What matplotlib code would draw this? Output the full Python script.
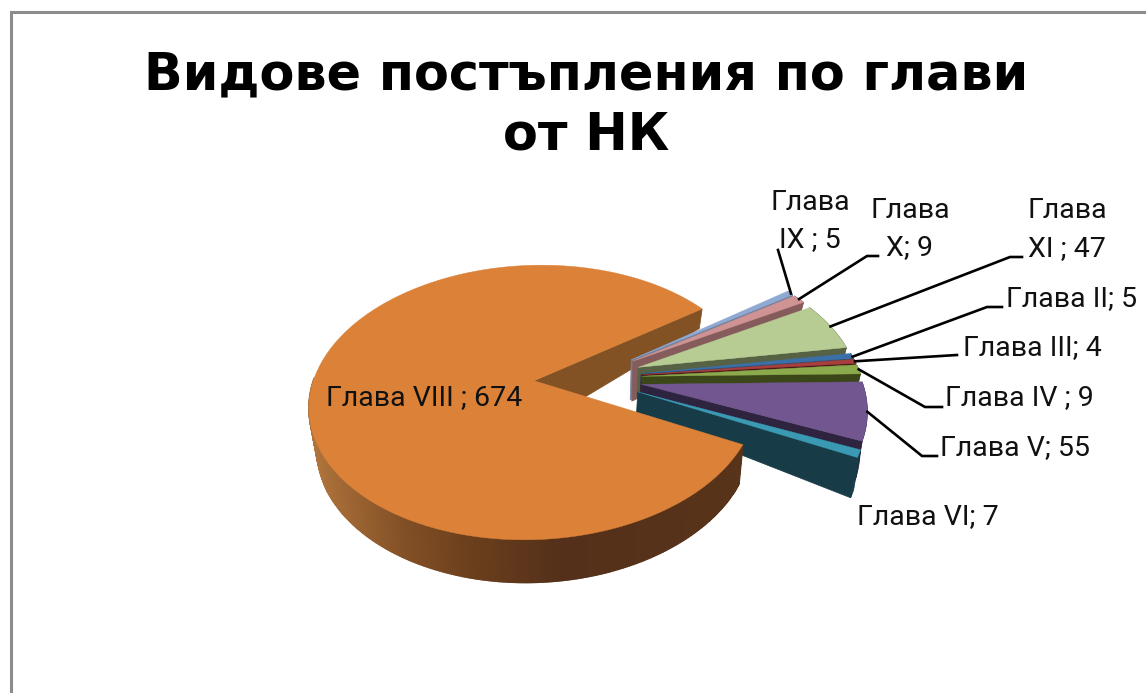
import matplotlib
matplotlib.use('Agg')
import matplotlib.pyplot as plt
import numpy as np
from matplotlib.patches import Polygon

plt.rcParams['font.family'] = ['Roboto', 'DejaVu Sans']

# данни: глави от НК, по часовниковата стрелка
chapters = ['II', 'III', 'IV', 'V', 'VI', 'VIII', 'IX', 'X', 'XI']
values = [5, 4, 9, 55, 7, 674, 5, 9, 47]
top_colors = ['#3B6FA8', '#A83F3C', '#8BAA4B', '#71568F', '#3A9AB3',
              '#DB8138', '#8FA9D3', '#CE9392', '#B7CC93']
side_colors = ['#2C4A6B', '#4A1A18', '#3B4619', '#2E2440', '#183B48',
               '#825225', '#74809C', '#855C5B', '#576144']
apex_depths = [25, 25, 25, 25, 22, 46, 40, 40, 30]

# надписи: текст, x, y
label_lines = [('Глава', 810, 202), ('IX ; 5', 810, 240),
               ('Глава', 910, 210), ('X; 9', 910, 248),
               ('Глава', 1067, 211), ('XI ; 47', 1067, 249),
               ('Глава II; 5', 1072, 299), ('Глава III; 4', 1032, 348),
               ('Глава IV ; 9', 1019, 398), ('Глава V; 55', 1015, 448),
               ('Глава VI; 7', 928, 517), ('Глава VIII ; 674', 424, 398)]
# водещи линии: глава, лакът, край
leaders = [('IX', None, (778, 250)), ('X', (867, 256), (878, 256)),
           ('XI', (1010, 257), (1022, 257)), ('II', (987, 307), (1002, 307)),
           ('III', None, (957, 355)), ('IV', (925, 407), (942, 407)),
           ('V', (922, 456), (937, 456))]

# геометрия на 3D кръга (в пиксели)
CX, CY = 588, 378
RX, RY = 220, 133
PERSP = 0.158
EXPLODE = 0.245
START = 9.0
CONVERGE = 0.975
DEPTH_V = [-1.1, -0.5, 0.45, 1.2]
DEPTH_H = [43, 40, 20, 18]
FONT_SIZE = 20.5


def project(u, v):
    w = 1 + PERSP * v
    return CX + RX * u / w, CY - RY * v / w


def lower(x, y, depth):
    return CX + (x - CX) * CONVERGE, y + depth


def slice_geometry(theta1, theta2):
    """Връща: връх, ръб по дъгата (горе и долу)"""
    mid = np.radians((theta1 + theta2) / 2)
    u0, v0 = EXPLODE * np.cos(mid), EXPLODE * np.sin(mid)
    t = np.radians(np.linspace(theta1, theta2, max(int(abs(theta1 - theta2) * 2), 3)))
    u, v = u0 + np.cos(t), v0 + np.sin(t)
    x, y = project(u, v)
    depth = np.interp(v, DEPTH_V, DEPTH_H)
    xb, yb = lower(x, y, depth)
    ax_, ay_ = project(u0, v0)
    return (ax_, ay_), np.column_stack([x, y]), np.column_stack([xb, yb])


def cut_face(ax, apex, rim_top, rim_bot, apex_depth, color, zorder):
    abx, aby = lower(apex[0], apex[1], apex_depth)
    pts = [apex, rim_top, rim_bot, (abx, aby)]
    ax.add_patch(Polygon(pts, closed=True, fc=color, ec=color, lw=0.5, zorder=zorder))


fig = plt.figure(figsize=(11.46, 6.93), dpi=100)
ax = fig.add_axes([0, 0, 1, 1])
ax.set_xlim(0, 1146)
ax.set_ylim(693, 0)
ax.axis('off')

# рамка
ax.plot([11, 11, 1146], [693, 12, 12], color='#8C8C8C', lw=2.2, solid_joinstyle='miter', zorder=1)

# заглавие
ax.text(586, 89, 'Видове постъпления по глави', family=['DejaVu Sans'], fontweight='bold',
        fontsize=36.6, ha='center', va='baseline', color='black')
ax.text(586, 150, 'от НК', family=['DejaVu Sans'], fontweight='bold',
        fontsize=36.6, ha='center', va='baseline', color='black')

# ъгли на резените
spans = np.array(values) / np.sum(values) * 360
ends = START - np.cumsum(spans)
starts = ends + spans
geo = {}
for i, name in enumerate(chapters):
    geo[name] = slice_geometry(starts[i], ends[i])

z = 2
idx_main = chapters.index('VIII')

# VIII: горен срез отзад
apex, rim, rim_b = geo['VIII']
cut_face(ax, apex, rim[-1], rim_b[-1], apex_depths[idx_main], side_colors[idx_main], z)

# резените от IX до VI, от задния към предния
for i in [6, 7, 8, 0, 1, 2, 3, 4]:
    apex, rim, rim_b = geo[chapters[i]]
    z += 1
    cut_face(ax, apex, rim[-1], rim_b[-1], apex_depths[i], side_colors[i], z)
    ax.add_patch(Polygon(np.vstack([rim, rim_b[::-1]]), closed=True, fc=side_colors[i],
                         ec=side_colors[i], lw=0.5, zorder=z))
    ax.add_patch(Polygon(np.vstack([[apex], rim]), closed=True, fc=top_colors[i],
                         ec=top_colors[i], lw=0.3, zorder=z))

# VIII: стена с преливане (само предната част) и горна повърхност
apex, rim, rim_b = geo['VIII']
z += 1
grad_x = [310, 400, 470, 560, 760]
grad_r = [176, 131, 106, 84, 88]
grad_g = [116, 80, 63, 48, 52]
grad_b = [60, 38, 28, 26, 26]
for j in range(len(rim) - 1):
    if rim[j, 1] < CY:
        continue
    xm = (rim[j, 0] + rim[j + 1, 0]) / 2
    c = (np.interp(xm, grad_x, grad_r) / 255, np.interp(xm, grad_x, grad_g) / 255,
         np.interp(xm, grad_x, grad_b) / 255)
    quad = [rim[j], rim[j + 1], rim_b[j + 1], rim_b[j]]
    ax.add_patch(Polygon(quad, closed=True, fc=c, ec=c, lw=1.2, zorder=z))
z += 1
ax.add_patch(Polygon(np.vstack([[apex], rim]), closed=True, fc=top_colors[idx_main],
                     ec=top_colors[idx_main], lw=0.3, zorder=z))

# водещи линии
z += 1
for name, elbow, end in leaders:
    _, rim, _ = geo[name]
    start = rim[len(rim) // 2]
    pts = [start] + ([elbow] if elbow else []) + [end]
    xs, ys = zip(*pts)
    ax.plot(xs, ys, color='black', lw=1.9, zorder=z)

# надписи
for text, x, y in label_lines:
    ax.text(x, y, text, fontsize=FONT_SIZE, ha='center', va='center', color='#111111', zorder=z + 1)

fig.savefig('out.png', dpi=100)
plt.close(fig)
